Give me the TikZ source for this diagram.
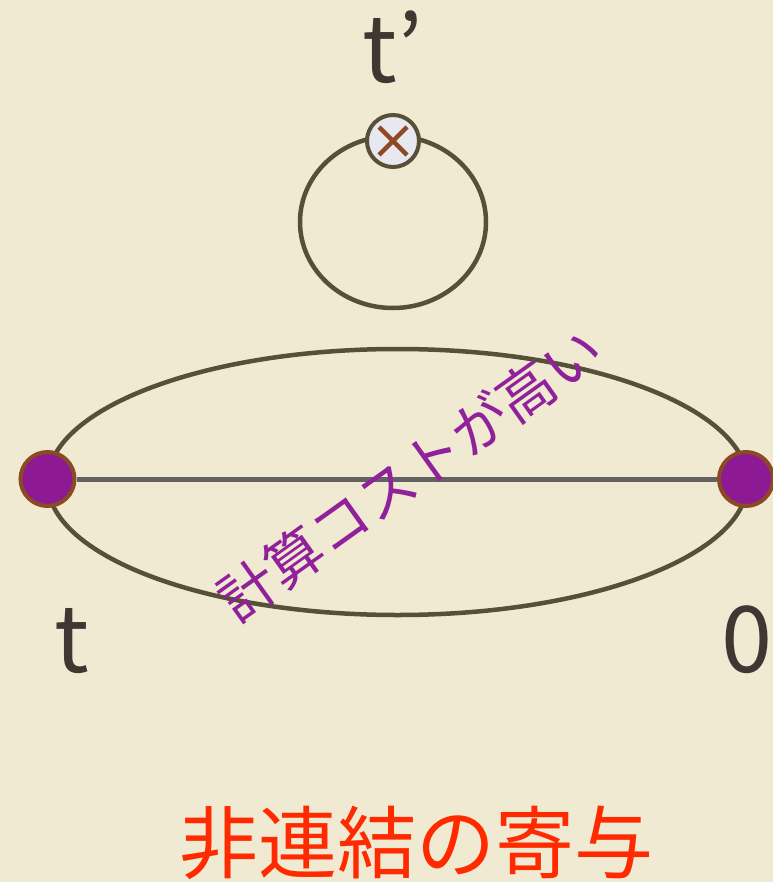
\documentclass[tikz,border=0pt]{standalone}
\usepackage{fontspec}
\usetikzlibrary{calc}
\setmainfont{Noto Sans CJK JP}
\newfontfamily\jpfont{Noto Sans CJK JP}
\definecolor{bgc}{RGB}{241,234,211}
\definecolor{olive}{RGB}{86,80,54}
\definecolor{lineg}{RGB}{98,98,98}
\definecolor{vpurple}{RGB}{142,26,147}
\definecolor{vbrown}{RGB}{138,74,34}
\definecolor{txtpurple}{RGB}{145,32,155}
\definecolor{txtred}{RGB}{255,42,0}
\definecolor{txtdark}{RGB}{62,55,50}
\definecolor{mfill}{RGB}{232,232,240}
\definecolor{xbrown}{RGB}{145,72,36}
\tikzset{
  vertex/.style={circle, fill=vpurple, draw=vbrown, line width=4bp, minimum size=54bp, inner sep=0pt},
  marker/.style={circle, fill=mfill, draw=olive, line width=4bp, minimum size=52bp, inner sep=0pt},
  loopline/.style={draw=olive, line width=4.5bp},
  prop/.style={draw=lineg, line width=5bp},
  biglabel/.style={text=txtdark, font=\fontsize{92bp}{92bp}\selectfont, anchor=base, inner sep=0pt},
}
\begin{document}
\begin{tikzpicture}[x=1bp, y=-1bp]
\fill[bgc] (0,0) rectangle (773,882);
\useasboundingbox (0,0) rectangle (773,882);
% big ellipse
\draw[loopline] (397.5,482) ellipse [x radius=350, y radius=133];
% propagator line
\node[vertex] (vt) at (47.5,479) {};
\node[vertex] (v0) at (746,479) {};
\draw[prop] (vt.east) -- (v0.west);
% small loop
\draw[loopline] (393,222) ellipse [x radius=93, y radius=86];
\node[marker] (mk) at (393,141) {};
\draw[draw=xbrown, line width=4.5bp] ($(mk)+(-14,-14)$) -- ($(mk)+(14,14)$);
\draw[draw=xbrown, line width=4.5bp] ($(mk)+(-14,14)$) -- ($(mk)+(14,-14)$);
% labels
\node[biglabel] (lt) at (72,672) {t};
\node[biglabel, anchor=base west] (l0) at (721,672) {0};
\node[biglabel] (ltp) at (393,82) {t’};
\node[text=txtpurple, rotate=35.5, font=\jpfont\fontsize{57bp}{57bp}\selectfont, inner sep=0pt] (cost) at (410,474) {計算コストが高い};
\node[text=txtred, font=\jpfont\fontsize{79bp}{79bp}\selectfont, inner sep=0pt] (title) at (416,843) {非連結の寄与};
\end{tikzpicture}
\end{document}
